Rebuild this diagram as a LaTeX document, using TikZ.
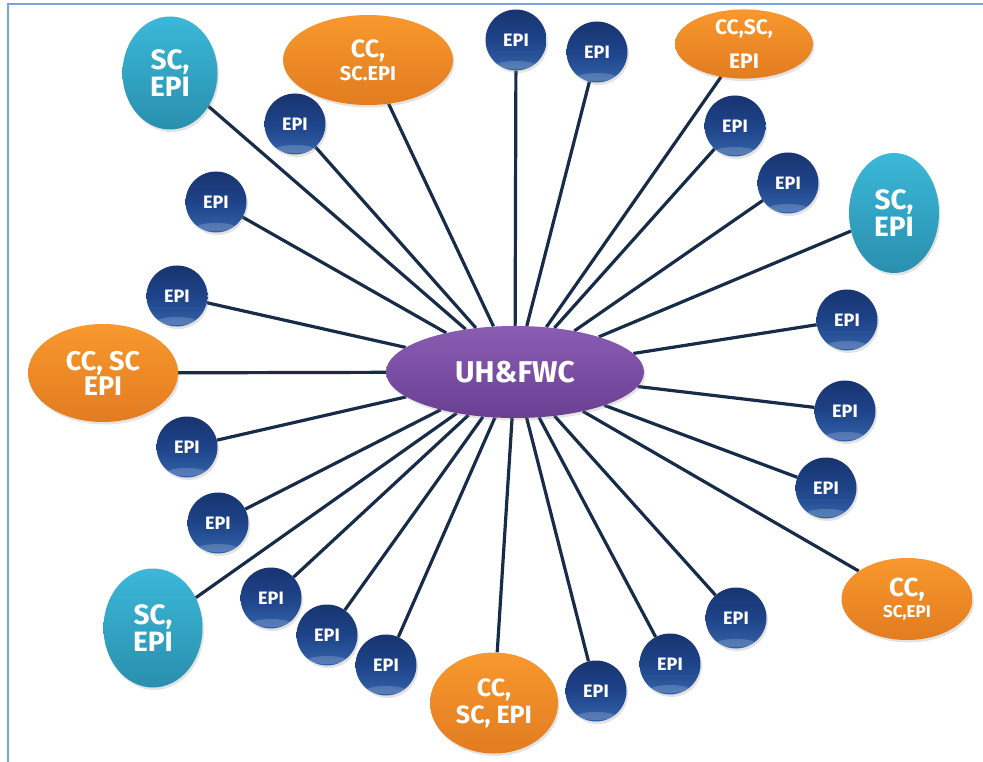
\documentclass[tikz,border=0pt]{standalone}
\usepackage{fontspec}
\setmainfont{Fira Sans}
\usetikzlibrary{shapes.geometric,shadows,backgrounds,calc}
\definecolor{cyanTop}{HTML}{3BB8D8}
\definecolor{cyanBot}{HTML}{2A8FAE}
\definecolor{orTop}{HTML}{F8982E}
\definecolor{orBot}{HTML}{E27C20}
\definecolor{hubTop}{HTML}{8A5DB3}
\definecolor{hubBot}{HTML}{6A3F92}
\definecolor{epiTop}{HTML}{183470}
\definecolor{epiMid}{HTML}{1E4389}
\definecolor{epiBot}{HTML}{3463AA}
\definecolor{linkCol}{HTML}{182C4A}
\definecolor{frameCol}{HTML}{7AA2DC}
\tikzset{
  softshadow/.style={drop shadow={opacity=0.22,shadow xshift=1.5pt,shadow yshift=-2.5pt}},
  epi/.style={circle,minimum size=61pt,inner sep=0pt,top color=epiTop,bottom color=epiBot,middle color=epiMid,
    text=white,font=\bfseries\fontsize{18}{18}\selectfont,softshadow,
    path picture={\fill[white,opacity=0.18] ($(path picture bounding box.center)+(0,-25pt)$) ellipse (19pt and 4pt);}},
  cyanbox/.style={ellipse,inner sep=0pt,top color=cyanTop,bottom color=cyanBot,text=white,align=center,
    font=\bfseries\fontsize{28}{27}\selectfont,softshadow},
  orbox/.style={ellipse,inner sep=0pt,top color=orTop,bottom color=orBot,text=white,align=center,softshadow},
  hubbox/.style={ellipse,inner sep=0pt,top color=hubTop,bottom color=hubBot,text=white,
    font=\bfseries\fontsize{30}{30}\selectfont,softshadow},
  link/.style={draw=linkCol,line width=3.2pt}
}
\begin{document}
\begin{tikzpicture}[x=1pt,y=-1pt]
\useasboundingbox (0,0) rectangle (983,762);

% hub
\node[hubbox,minimum width=258pt,minimum height=92pt] (hub) at (515,372) {UH\&FWC};

% cyan nodes
\node[cyanbox,minimum width=95pt,minimum height=113pt] (cy1) at (170,73) {SC,\\EPI};
\node[cyanbox,minimum width=90pt,minimum height=120pt] (cy2) at (894,213) {SC,\\EPI};
\node[cyanbox,minimum width=99pt,minimum height=119pt] (cy3) at (153,628) {SC,\\EPI};

% orange nodes
\node[orbox,minimum width=170pt,minimum height=90pt,font=\bfseries\fontsize{20}{23}\selectfont] (or1) at (368,60)
  {{\fontsize{25}{25}\selectfont CC,}\\SC.EPI};
\node[orbox,minimum width=138pt,minimum height=62pt,font=\bfseries\fontsize{21}{34}\selectfont] (or2) at (744,44)
  {CC,SC,\\EPI};
\node[orbox,minimum width=150pt,minimum height=98pt,font=\bfseries\fontsize{27}{25}\selectfont] (or3) at (103,373)
  {CC, SC\\EPI};
\node[orbox,minimum width=128pt,minimum height=101pt,font=\bfseries\fontsize{25}{27}\selectfont] (or4) at (494,703)
  {CC,\\SC, EPI};
\node[orbox,minimum width=131pt,minimum height=82pt,font=\bfseries\fontsize{17}{21}\selectfont] (or5) at (907,599)
  {{\fontsize{26}{26}\selectfont CC,}\\SC,EPI};

% EPI nodes
\node[epi] (e1) at (295,124) {EPI};
\node[epi] (e2) at (216,202) {EPI};
\node[epi] (e3) at (516,40) {EPI};
\node[epi] (e4) at (597,52) {EPI};
\node[epi] (e5) at (735,126) {EPI};
\node[epi] (e6) at (788,183) {EPI};
\node[epi] (e7) at (847,320) {EPI};
\node[epi] (e8) at (845,411) {EPI};
\node[epi] (e9) at (826,488) {EPI};
\node[epi] (e10) at (736,618) {EPI};
\node[epi] (e11) at (670,664) {EPI};
\node[epi] (e12) at (596,691) {EPI};
\node[epi] (e13) at (386,665) {EPI};
\node[epi] (e14) at (327,635) {EPI};
\node[epi] (e15) at (271,598) {EPI};
\node[epi] (e16) at (218,523) {EPI};
\node[epi] (e17) at (187,447) {EPI};
\node[epi] (e18) at (177,296) {EPI};

\begin{scope}[on background layer]
\fill[white] (0,0) rectangle (983,762);
\draw[frameCol,line width=1.5pt] (8,762) -- (8,4) -- (983,4);
\foreach \n in {cy1,cy2,cy3,or1,or2,or3,or4,or5,e1,e2,e3,e4,e5,e6,e7,e8,e9,e10,e11,e12,e13,e14,e15,e16,e17,e18}
  \draw[link] (hub) -- (\n);
\end{scope}
\end{tikzpicture}
\end{document}
